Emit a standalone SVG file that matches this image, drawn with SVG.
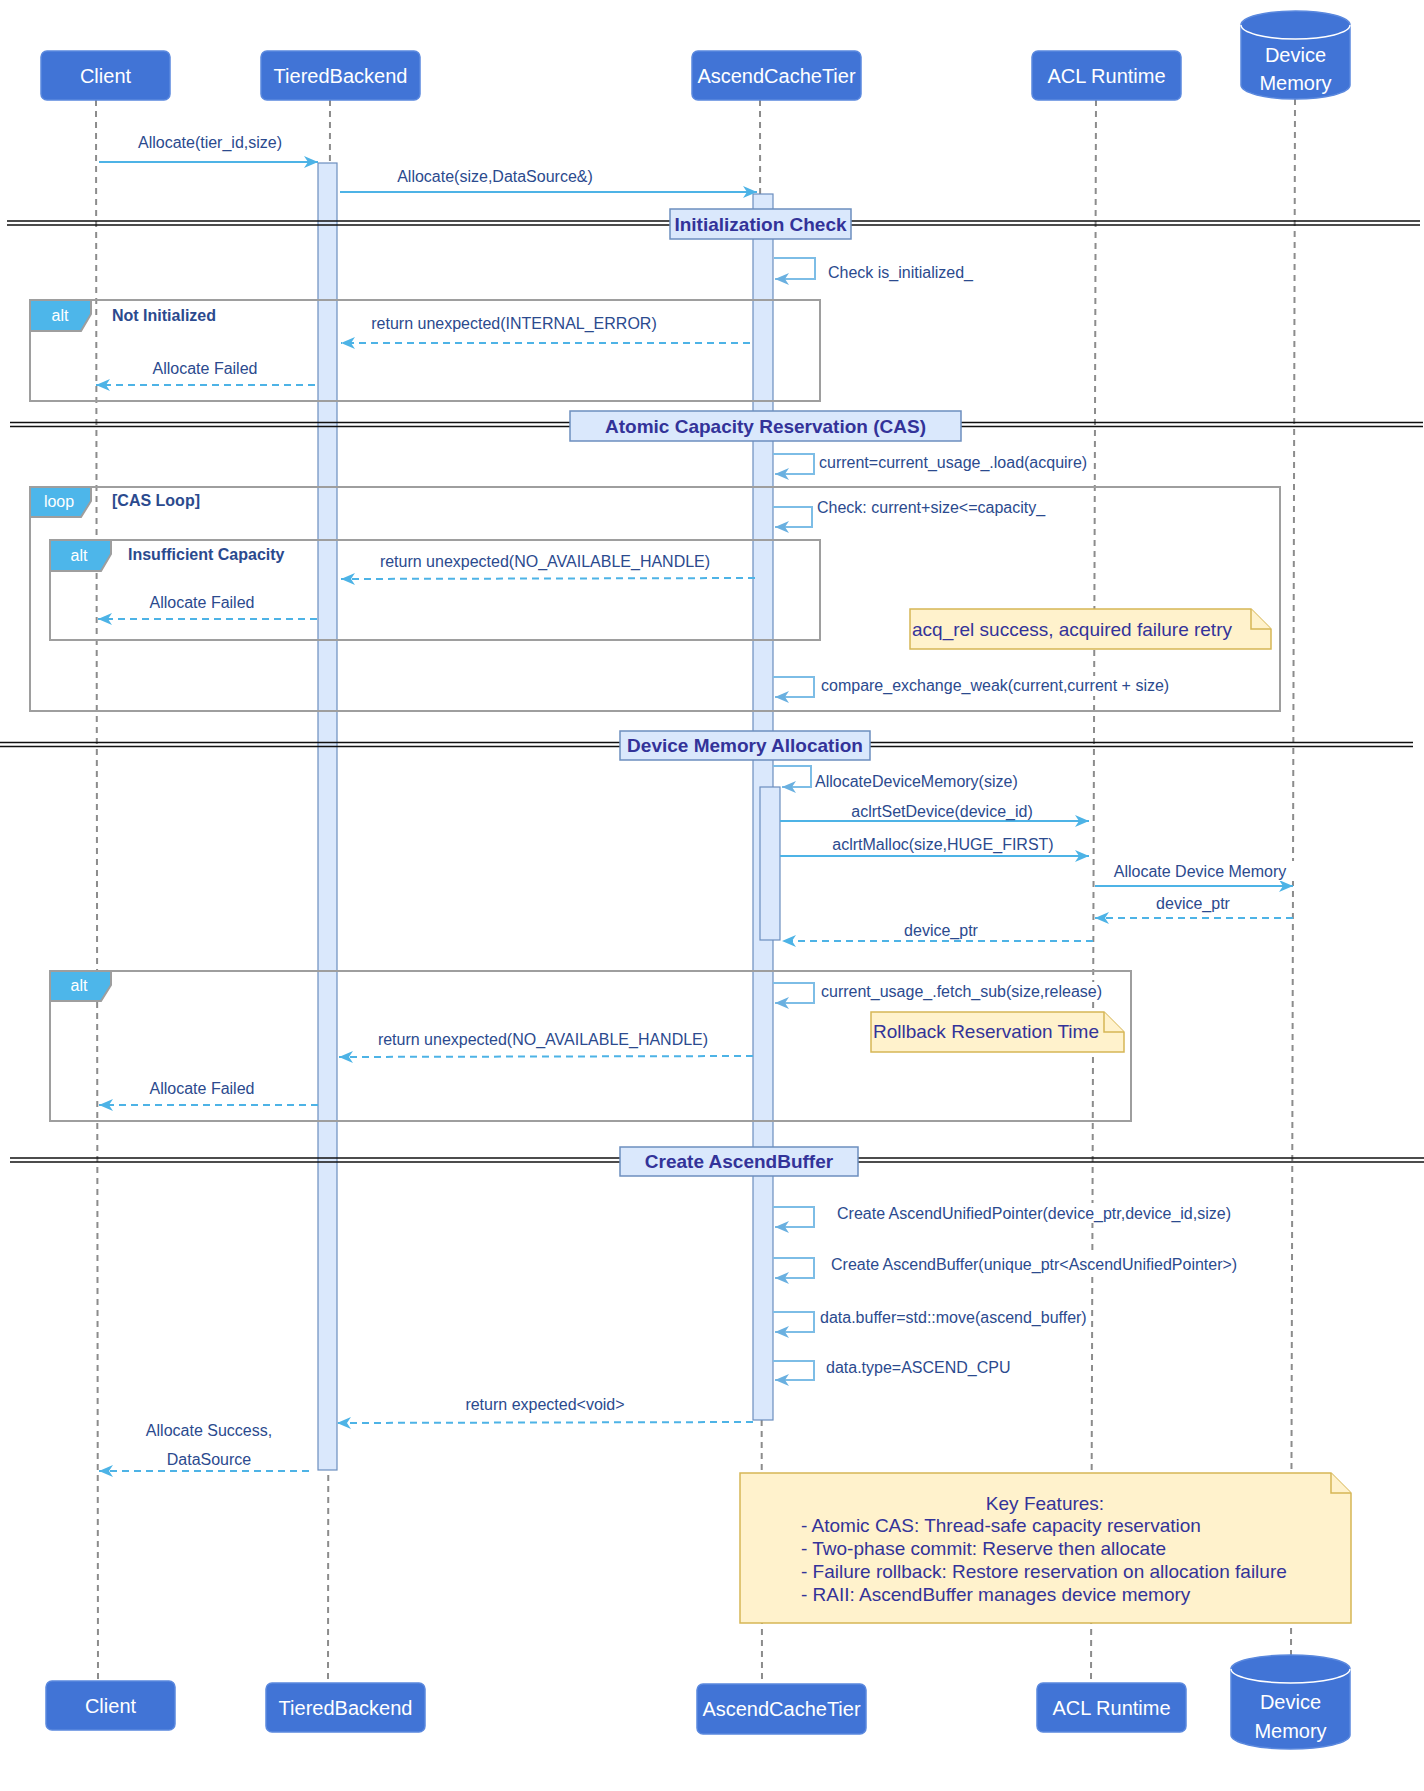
<svg xmlns="http://www.w3.org/2000/svg" width="1424" height="1791" viewBox="0 0 1424 1791">
<style>
text{font-family:"Liberation Sans",Arial,Helvetica,sans-serif}
.bg{fill:#ffffff}
.lblbg{fill:#ffffff;stroke:none}
.part{fill:#4174D6;stroke:#5A88DE;stroke-width:1.5}
.ptxt{fill:#ffffff;font-size:20px;text-anchor:middle}
.life{stroke:#8C8C8C;stroke-width:2;stroke-dasharray:6 5;fill:none}
.act{fill:#DAE8FC;stroke:#6C8EBF;stroke-width:1.2}
.frame{fill:none;stroke:#9E9E9E;stroke-width:2}
.tab{fill:#4DB6EA;stroke:#9E9E9E;stroke-width:2}
.tabtxt{fill:#ffffff;font-size:16px;text-anchor:middle}
.ftitle{fill:#2B4A8E;font-size:16px;font-weight:bold}
.sep{stroke:#111111;stroke-width:1.5}
.sepbox{fill:#DAE8FC;stroke:#6C8EBF;stroke-width:1.5}
.septxt{fill:#333399;font-size:19px;font-weight:bold;text-anchor:middle}
.msg{stroke:#4DB3E6;stroke-width:2;fill:none}
.ret{stroke:#4DB3E6;stroke-width:2;fill:none;stroke-dasharray:7 5}
.self{stroke:#7DBDE6;stroke-width:2;fill:none}
.lbl{fill:#2B4A8E;font-size:16px;text-anchor:middle}
.lbls{fill:#2B4A8E;font-size:16px}
.note{fill:#FFF2CC;stroke:#D6B656;stroke-width:1.5}
.ntxt{fill:#333399;font-size:19px}
</style>
<defs>
<marker id="ah" markerUnits="userSpaceOnUse" markerWidth="16" markerHeight="14" refX="14" refY="6" orient="auto">
<path d="M0,0 L14,6 L0,12 L4,6 Z" fill="#4DB3E6"/>
</marker>
<marker id="ahs" markerUnits="userSpaceOnUse" markerWidth="16" markerHeight="14" refX="14" refY="6" orient="auto">
<path d="M0,0 L14,6 L0,12 L4,6 Z" fill="#6AB0E0"/>
</marker>
</defs>
<rect class="bg" x="0" y="0" width="1424" height="1791"/>

<g id="lifelines">
<line class="life" x1="96" y1="100" x2="98" y2="1681"/>
<line class="life" x1="330" y1="100" x2="328" y2="1683"/>
<line class="life" x1="760" y1="100" x2="762" y2="1684"/>
<line class="life" x1="1096" y1="100" x2="1091" y2="1683"/>
<line class="life" x1="1295" y1="99" x2="1291" y2="1655"/>
</g>

<g id="activations">
<rect class="act" x="318" y="163" width="19" height="1307"/>
<rect class="act" x="753" y="194" width="20" height="1226"/>
<rect class="act" x="760" y="787" width="20" height="153"/>
</g>

<g id="frame-alt-not-initialized">
<rect class="frame" x="30" y="300" width="790" height="101"/>
<path class="tab" d="M30,300 H91 V314 L81,331 H30 Z"/>
<text class="tabtxt" x="60" y="320.5">alt</text>
<text class="ftitle" x="112" y="320.5">Not Initialized</text>
</g>

<g id="frame-loop-cas">
<rect class="frame" x="30" y="487" width="1250" height="224"/>
<path class="tab" d="M30,487 H91 V501 L81,517 H30 Z"/>
<text class="tabtxt" x="59" y="507">loop</text>
<text class="ftitle" x="112" y="505.5">[CAS Loop]</text>
</g>

<g id="frame-alt-insufficient">
<rect class="frame" x="50" y="540" width="770" height="100"/>
<path class="tab" d="M50,540 H111 V554 L101,571 H50 Z"/>
<text class="tabtxt" x="79" y="560.5">alt</text>
<text class="ftitle" x="128" y="559.5">Insufficient Capacity</text>
</g>

<g id="frame-alt-rollback">
<rect class="frame" x="50" y="971" width="1081" height="150"/>
<path class="tab" d="M50,971 H111 V985 L101,1001 H50 Z"/>
<text class="tabtxt" x="79" y="991">alt</text>
</g>

<g id="sep-init">
<line class="sep" x1="7" y1="221" x2="1420" y2="221"/>
<line class="sep" x1="7" y1="225" x2="1420" y2="225"/>
<rect class="sepbox" x="670" y="209" width="181" height="30"/>
<text class="septxt" x="760.5" y="230.5">Initialization Check</text>
</g>

<g id="sep-cas">
<line class="sep" x1="10" y1="422.5" x2="1423" y2="422.5"/>
<line class="sep" x1="10" y1="426.5" x2="1423" y2="426.5"/>
<rect class="sepbox" x="570" y="411" width="391" height="30"/>
<text class="septxt" x="765.5" y="432.5">Atomic Capacity Reservation (CAS)</text>
</g>

<g id="sep-dma">
<line class="sep" x1="0" y1="742.5" x2="1413" y2="742.5"/>
<line class="sep" x1="0" y1="746.5" x2="1413" y2="746.5"/>
<rect class="sepbox" x="620" y="731" width="250" height="29"/>
<text class="septxt" x="745" y="752">Device Memory Allocation</text>
</g>

<g id="sep-create">
<line class="sep" x1="10" y1="1158" x2="1424" y2="1158"/>
<line class="sep" x1="10" y1="1162" x2="1424" y2="1162"/>
<rect class="sepbox" x="620" y="1147" width="238" height="29"/>
<text class="septxt" x="739" y="1168">Create AscendBuffer</text>
</g>

<g id="connectors">
<line class="msg" x1="99" y1="162" x2="318" y2="162" marker-end="url(#ah)"/>
<text class="lbl" x="210" y="147.5">Allocate(tier_id,size)</text>
<line class="msg" x1="340" y1="192" x2="757" y2="192" marker-end="url(#ah)"/>
<text class="lbl" x="495" y="181.5">Allocate(size,DataSource&amp;)</text>

<path class="self" d="M774,258 H815 V279 H775" marker-end="url(#ahs)"/>
<text class="lbls" x="828" y="277.5">Check is_initialized_</text>

<line class="ret" x1="750" y1="343" x2="341" y2="343" marker-end="url(#ah)"/>
<text class="lbl" x="514" y="328.5">return unexpected(INTERNAL_ERROR)</text>
<line class="ret" x1="315" y1="385" x2="96" y2="385" marker-end="url(#ah)"/>
<text class="lbl" x="205" y="373.5">Allocate Failed</text>

<path class="self" d="M773,454 H814 V474 H775" marker-end="url(#ahs)"/>
<text class="lbls" x="819" y="467.5">current=current_usage_.load(acquire)</text>
<path class="self" d="M773,507 H812 V527 H775" marker-end="url(#ahs)"/>
<text class="lbls" x="817" y="512.5">Check: current+size&lt;=capacity_</text>

<line class="ret" x1="755" y1="578" x2="341" y2="579" marker-end="url(#ah)"/>
<text class="lbl" x="545" y="566.5">return unexpected(NO_AVAILABLE_HANDLE)</text>
<line class="ret" x1="317" y1="619" x2="98" y2="619" marker-end="url(#ah)"/>
<text class="lbl" x="202" y="607.5">Allocate Failed</text>

<path class="self" d="M773,677 H814 V697 H775" marker-end="url(#ahs)"/>
<rect class="lblbg" x="819" y="676" width="352" height="20"/>
<text class="lbls" x="821" y="690.5">compare_exchange_weak(current,current + size)</text>

<path class="self" d="M773,766 H811 V787 H782" marker-end="url(#ahs)"/>
<text class="lbls" x="815" y="786.5">AllocateDeviceMemory(size)</text>
<line class="msg" x1="780" y1="821" x2="1089" y2="821" marker-end="url(#ah)"/>
<text class="lbl" x="942" y="816.5">aclrtSetDevice(device_id)</text>
<line class="msg" x1="780" y1="856" x2="1089" y2="856" marker-end="url(#ah)"/>
<text class="lbl" x="943" y="849.5">aclrtMalloc(size,HUGE_FIRST)</text>
<line class="msg" x1="1095" y1="886" x2="1293" y2="886" marker-end="url(#ah)"/>
<rect class="lblbg" x="1110" y="861" width="186" height="20"/>
<text class="lbl" x="1200" y="876.5">Allocate Device Memory</text>
<line class="ret" x1="1293" y1="918" x2="1095" y2="918" marker-end="url(#ah)"/>
<text class="lbl" x="1193" y="908.5">device_ptr</text>
<line class="ret" x1="1093" y1="941" x2="782" y2="941" marker-end="url(#ah)"/>
<text class="lbl" x="941" y="935.5">device_ptr</text>

<path class="self" d="M773,983 H814 V1003 H775" marker-end="url(#ahs)"/>
<rect class="lblbg" x="819" y="982" width="285" height="20"/>
<text class="lbls" x="821" y="996.5">current_usage_.fetch_sub(size,release)</text>
<line class="ret" x1="753" y1="1056" x2="339" y2="1057" marker-end="url(#ah)"/>
<text class="lbl" x="543" y="1044.5">return unexpected(NO_AVAILABLE_HANDLE)</text>
<line class="ret" x1="318" y1="1105" x2="99" y2="1105" marker-end="url(#ah)"/>
<text class="lbl" x="202" y="1093.5">Allocate Failed</text>

<path class="self" d="M773,1207 H814 V1227 H775" marker-end="url(#ahs)"/>
<rect class="lblbg" x="835" y="1203" width="398" height="20"/>
<text class="lbls" x="837" y="1218.5">Create AscendUnifiedPointer(device_ptr,device_id,size)</text>
<path class="self" d="M773,1258 H814 V1278 H775" marker-end="url(#ahs)"/>
<rect class="lblbg" x="829" y="1254" width="410" height="20"/>
<text class="lbls" x="831" y="1269.5">Create AscendBuffer(unique_ptr&lt;AscendUnifiedPointer&gt;)</text>
<path class="self" d="M773,1312 H814 V1332 H775" marker-end="url(#ahs)"/>
<text class="lbls" x="820" y="1322.5">data.buffer=std::move(ascend_buffer)</text>
<path class="self" d="M773,1361 H814 V1380 H775" marker-end="url(#ahs)"/>
<text class="lbls" x="826" y="1372.5">data.type=ASCEND_CPU</text>

<line class="ret" x1="753" y1="1422" x2="337" y2="1423" marker-end="url(#ah)"/>
<text class="lbl" x="545" y="1409.5">return expected&lt;void&gt;</text>
<line class="ret" x1="309" y1="1471" x2="99" y2="1471" marker-end="url(#ah)"/>
<text class="lbl" x="209" y="1435.5">Allocate Success,</text>
<text class="lbl" x="209" y="1464.5">DataSource</text>
</g>

<g id="note-acqrel">
<path class="note" d="M910,609 H1251 L1271,629 V649 H910 Z"/>
<path class="note" d="M1251,609 V629 H1271" fill="none"/>
<text class="ntxt" x="912" y="635.5">acq_rel success, acquired failure retry</text>
</g>

<g id="note-rollback">
<path class="note" d="M871,1012 H1104 L1124,1032 V1052 H871 Z"/>
<path class="note" d="M1104,1012 V1032 H1124" fill="none"/>
<text class="ntxt" x="873" y="1037.5">Rollback Reservation Time</text>
</g>

<g id="note-key-features">
<path class="note" d="M740,1473 H1331 L1351,1493 V1623 H740 Z"/>
<path class="note" d="M1331,1473 V1493 H1351" fill="none"/>
<text class="ntxt" x="1045" y="1509.5" text-anchor="middle">Key Features:</text>
<text class="ntxt" x="801" y="1531.5">- Atomic CAS: Thread-safe capacity reservation</text>
<text class="ntxt" x="801" y="1554.5">- Two-phase commit: Reserve then allocate</text>
<text class="ntxt" x="801" y="1577.5">- Failure rollback: Restore reservation on allocation failure</text>
<text class="ntxt" x="801" y="1600.5">- RAII: AscendBuffer manages device memory</text>
</g>

<g id="client-top">
<rect class="part" x="41" y="51" width="129" height="49" rx="6"/>
<text class="ptxt" x="105.5" y="82.5">Client</text>
</g>
<g id="tieredbackend-top">
<rect class="part" x="261" y="51" width="159" height="49" rx="6"/>
<text class="ptxt" x="340.5" y="82.5">TieredBackend</text>
</g>
<g id="ascendcachetier-top">
<rect class="part" x="692" y="51" width="169" height="49" rx="6"/>
<text class="ptxt" x="776.5" y="82.5">AscendCacheTier</text>
</g>
<g id="aclruntime-top">
<rect class="part" x="1032" y="51" width="149" height="49" rx="6"/>
<text class="ptxt" x="1106.5" y="82.5">ACL Runtime</text>
</g>
<g id="devicememory-top">
<path class="part" d="M1241,25 A54.5,14 0 0 1 1350,25 V85 A54.5,14 0 0 1 1241,85 Z"/>
<path d="M1241,25 A54.5,14 0 0 0 1350,25" fill="none" stroke="#ffffff" stroke-width="1.5"/>
<text class="ptxt" x="1295.5" y="62">Device</text>
<text class="ptxt" x="1295.5" y="90">Memory</text>
</g>

<g id="client-bottom">
<rect class="part" x="46" y="1681" width="129" height="49" rx="6"/>
<text class="ptxt" x="110.5" y="1712.5">Client</text>
</g>
<g id="tieredbackend-bottom">
<rect class="part" x="266" y="1683" width="159" height="49" rx="6"/>
<text class="ptxt" x="345.5" y="1714.5">TieredBackend</text>
</g>
<g id="ascendcachetier-bottom">
<rect class="part" x="697" y="1684" width="169" height="50" rx="6"/>
<text class="ptxt" x="781.5" y="1716">AscendCacheTier</text>
</g>
<g id="aclruntime-bottom">
<rect class="part" x="1037" y="1683" width="149" height="49" rx="6"/>
<text class="ptxt" x="1111.5" y="1714.5">ACL Runtime</text>
</g>
<g id="devicememory-bottom">
<path class="part" d="M1231,1669 A59.5,14 0 0 1 1350,1669 V1735 A59.5,14 0 0 1 1231,1735 Z"/>
<path d="M1231,1669 A59.5,14 0 0 0 1350,1669" fill="none" stroke="#ffffff" stroke-width="1.5"/>
<text class="ptxt" x="1290.5" y="1709">Device</text>
<text class="ptxt" x="1290.5" y="1738">Memory</text>
</g>
</svg>
